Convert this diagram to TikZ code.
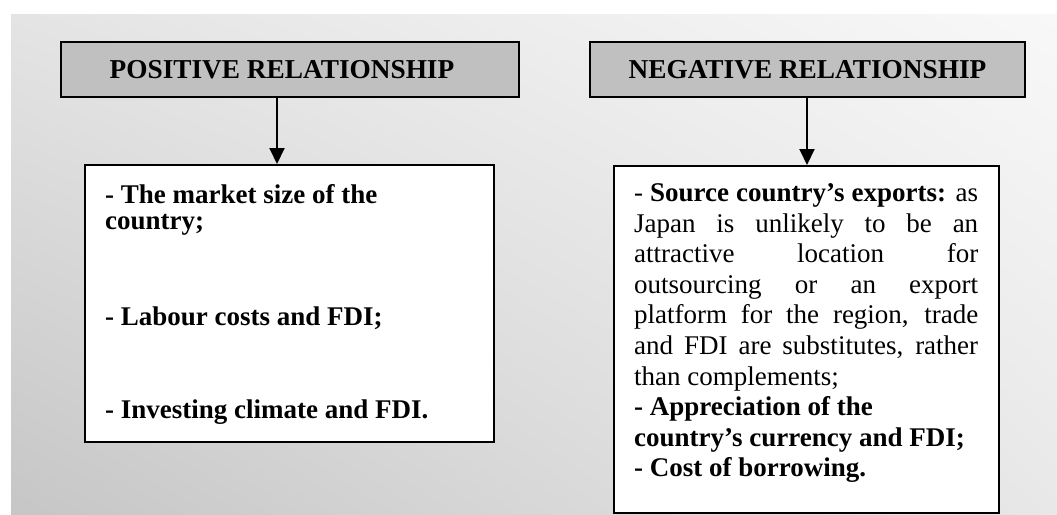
\documentclass[tikz,border=0pt]{standalone}
\usepackage{fontspec}
\setmainfont{Liberation Serif}
\usetikzlibrary{arrows.meta,shadings}
\definecolor{hdrgray}{HTML}{C0C0C0}
\definecolor{bgUL}{HTML}{E4E4E4}
\definecolor{bgUR}{HTML}{F8F8F8}
\definecolor{bgLL}{HTML}{C6C6C6}
\definecolor{bgLR}{HTML}{E8E8E8}
\tikzset{
  hdr/.style={draw=black, line width=2pt, fill=hdrgray, inner sep=0pt,
    font=\fontsize{27.3}{30}\selectfont\bfseries},
  itembox/.style={draw=black, line width=2pt, fill=white, inner sep=0pt},
  itemtext/.style={inner sep=0pt, anchor=base west},
  link/.style={line width=2pt, -{Triangle[length=16pt,width=15pt]}},
}
\begin{document}
\begin{tikzpicture}[x=1pt,y=-1pt]
\useasboundingbox (0,0) rectangle (1057,514);
% background panel
\begin{scope}[y=1pt]
  \shade[upper left=bgUL, upper right=bgUR, lower left=bgLL, lower right=bgLR]
    (11,-514) rectangle (1057,-14);
\end{scope}
% headers
\node[hdr, minimum width=458pt, minimum height=55pt] (poshead) at (290,69.5)
  {POSITIVE RELATIONSHIP\hspace*{16pt}};
\node[hdr, minimum width=435pt, minimum height=55pt] (neghead) at (807.5,69.5)
  {NEGATIVE RELATIONSHIP};
% lower boxes
\node[itembox, minimum width=409pt, minimum height=277pt] (posbox) at (289.5,303.5) {};
\node[itembox, minimum width=385pt, minimum height=347pt] (negbox) at (806.5,339.5) {};
% texts
\node[itemtext] (postext) at (105,203) {\parbox[t]{380pt}{\fontsize{27}{26.5}\selectfont\bfseries
- The market size of the\\
country;\\[69pt]
- Labour costs and FDI;\\[66.5pt]
- Investing climate and FDI.}};
\node[itemtext] (negtext) at (634,201.5) {\parbox[t]{344pt}{\fontsize{27}{30.6}\selectfont
\makebox[\linewidth][s]{- \textbf{Source country’s exports:} as}\\
\makebox[\linewidth][s]{Japan is unlikely to be an}\\
\makebox[\linewidth][s]{attractive location for}\\
\makebox[\linewidth][s]{outsourcing or an export}\\
\makebox[\linewidth][s]{platform for the region, trade}\\
\makebox[\linewidth][s]{and FDI are substitutes, rather}\\
than complements;\\
\textbf{- Appreciation of the}\\
\textbf{country’s currency and FDI;}\\
\textbf{- Cost of borrowing.}}};
% connectors
\coordinate (pa) at (277,0);
\coordinate (na) at (807,0);
\draw[link] (poshead.south -| pa) -- (posbox.north -| pa);
\draw[link] (neghead.south -| na) -- (negbox.north -| na);
\end{tikzpicture}
\end{document}
